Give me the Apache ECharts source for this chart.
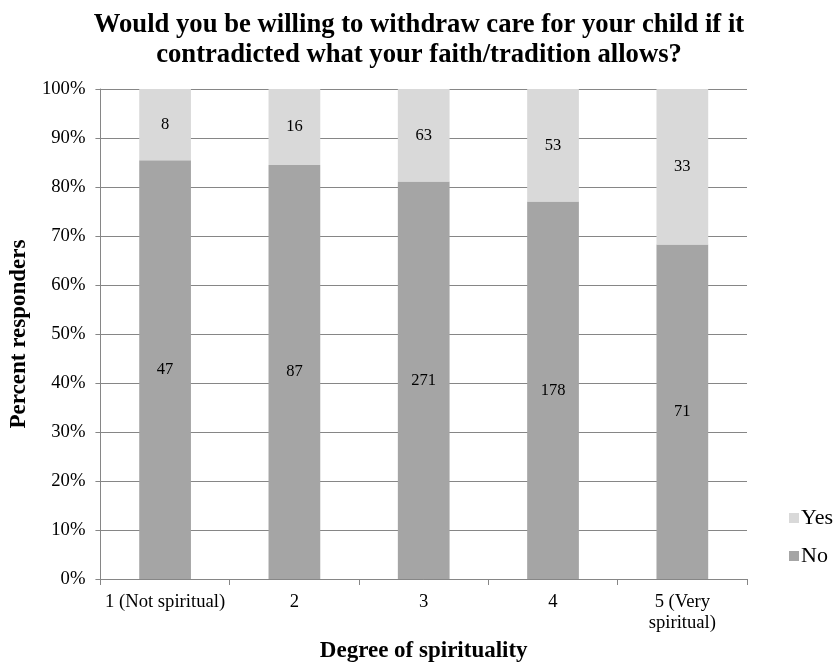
<!DOCTYPE html>
<html><head><meta charset="utf-8">
<script src="https://cdn.jsdelivr.net/npm/echarts@6/dist/echarts.min.js"></script>
<style>html,body{margin:0;padding:0;background:#fff}#c{width:838px;height:671px}</style>
</head><body><div id="c"></div>
<script>
const categories = ['1 (Not spiritual)', '2', '3', '4', '5 (Very\nspiritual)'];
const noCounts = [47, 87, 271, 178, 71];
const yesCounts = [8, 16, 63, 53, 33];
const yTicks = [0, 10, 20, 30, 40, 50, 60, 70, 80, 90, 100];

const totals = noCounts.map((n, i) => n + yesCounts[i]);
const noPct = noCounts.map((n, i) => n / totals[i] * 100);
const yesPct = yesCounts.map((n, i) => n / totals[i] * 100);

const serif = '"Liberation Serif", "Times New Roman", serif';
const chart = echarts.init(document.getElementById('c'));
chart.setOption({
  animation: false,
  title: {
    text: 'Would you be willing to withdraw care for your child if it\ncontradicted what your faith/tradition allows?',
    left: 'center', top: 5,
    textStyle: {fontFamily: serif, fontWeight: 'bold', fontSize: 26.67, lineHeight: 30, color: '#000'}
  },
  legend: {
    orient: 'vertical', left: 784, top: 502, itemGap: 16,
    itemWidth: 10, itemHeight: 10, icon: 'rect',
    data: ['Yes', 'No'],
    textStyle: {fontFamily: serif, fontSize: 22, color: '#000', padding: [0, 0, 0, -3]}
  },
  grid: {left: 98, right: 91, top: 89, bottom: 92},
  xAxis: {
    type: 'category', data: categories,
    name: 'Degree of spirituality', nameLocation: 'middle', nameGap: 61,
    nameTextStyle: {fontFamily: serif, fontWeight: 'bold', fontSize: 23, color: '#000'},
    axisLine: {lineStyle: {color: '#868686'}},
    axisTick: {show: true, length: 6, lineStyle: {color: '#868686'}},
    axisLabel: {fontFamily: serif, fontSize: 18.67, color: '#000', margin: 13, lineHeight: 21, interval: 0}
  },
  yAxis: {
    type: 'value', min: 0, max: 100, interval: 10,
    name: 'Percent responders', nameLocation: 'middle', nameGap: 66,
    nameTextStyle: {fontFamily: serif, fontWeight: 'bold', fontSize: 23, color: '#000'},
    axisLine: {show: true, lineStyle: {color: '#868686'}},
    axisTick: {show: true, length: 5, lineStyle: {color: '#868686'}},
    axisLabel: {fontFamily: serif, fontSize: 18.67, color: '#000', margin: 15,
      formatter: v => yTicks.includes(v) ? v + '%' : ''},
    splitLine: {lineStyle: {color: '#868686', width: 1}}
  },
  series: [
    {
      name: 'No', type: 'bar', stack: 't', data: noPct, barCategoryGap: '60%',
      itemStyle: {color: '#a5a5a5'},
      label: {show: true, position: 'inside', fontFamily: serif, fontSize: 16.5, color: '#000',
        formatter: p => noCounts[p.dataIndex]}
    },
    {
      name: 'Yes', type: 'bar', stack: 't', data: yesPct, barCategoryGap: '60%',
      itemStyle: {color: '#d9d9d9'},
      label: {show: true, position: 'inside', fontFamily: serif, fontSize: 16.5, color: '#000',
        formatter: p => yesCounts[p.dataIndex]}
    }
  ]
});
</script></body></html>
